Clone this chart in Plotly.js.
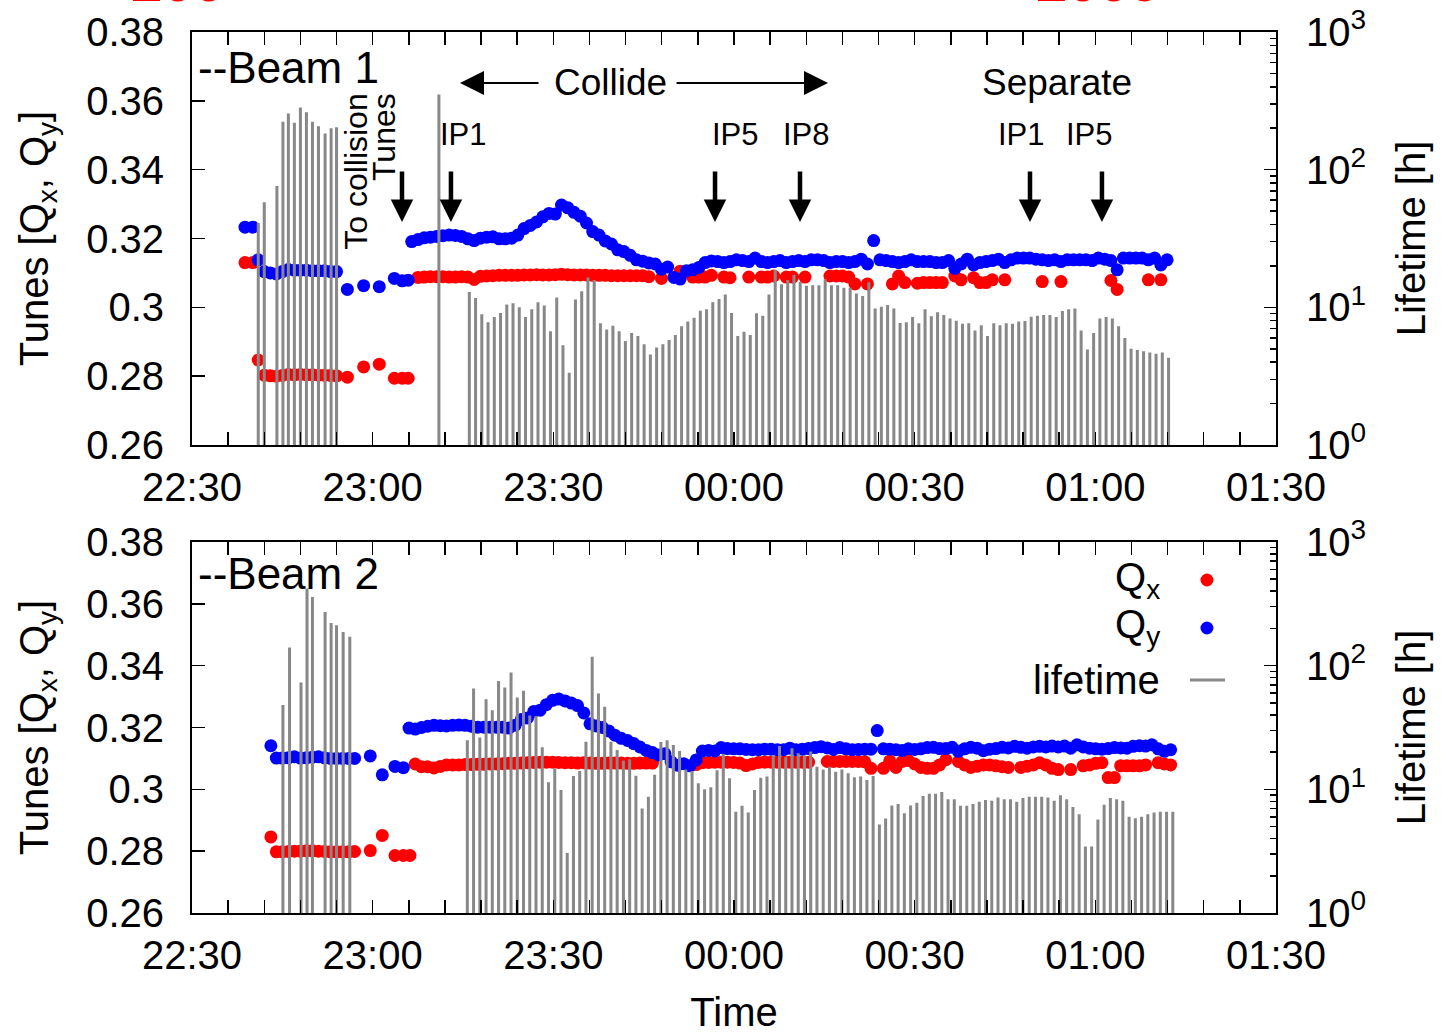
<!DOCTYPE html>
<html>
<head>
<meta charset="utf-8">
<script src="https://cdn.plot.ly/plotly-3.0.1.min.js"></script>
<style>html,body{margin:0;padding:0;background:#fff;}#chart{width:1441px;height:1034px;}</style>
</head>
<body>
<div id="chart"></div>
<script>
// ---------- DATA (times in minutes after 22:30) ----------
// Beam 1 : early tune measurements
const tEarly1 = [8.8, 10.1, 11.0, 12, 13, 14, 15, 16, 17, 18, 19, 20, 21, 22, 23, 24, 25.8, 28.5, 31.1, 33.6, 34.9, 35.9];
const qyEarly1 = [0.3233, 0.3233, 0.3138, 0.3104, 0.3100, 0.3097, 0.3104, 0.3110, 0.3108, 0.3108, 0.3108, 0.3106, 0.3106, 0.3106, 0.3104, 0.3104, 0.3052, 0.3063, 0.3060, 0.3084, 0.3077, 0.3079];
const qxEarly1 = [0.3130, 0.3130, 0.2847, 0.2803, 0.2801, 0.2800, 0.2802, 0.2805, 0.2804, 0.2805, 0.2804, 0.2804, 0.2803, 0.2803, 0.2802, 0.2801, 0.2797, 0.2827, 0.2835, 0.2794, 0.2794, 0.2794];
// Beam 1 : main tune series (one sample every stepSec, starting at tMainStart1)
const tMainStart1 = 36.48;
const qyMain1 = [0.3191,0.3197,0.3202,0.3204,0.3206,0.3208,0.3210,0.3209,0.3206,0.3199,
0.3194,0.3201,0.3204,0.3205,0.3199,0.3199,0.3201,0.3210,0.3229,0.3238,
0.3248,0.3263,0.3273,0.3271,0.3297,0.3289,0.3276,0.3265,0.3245,0.3220,
0.3210,0.3193,0.3184,0.3167,0.3162,0.3151,0.3138,0.3134,0.3129,0.3126,
0.3111,0.3117,0.3087,0.3082,0.3106,0.3109,0.3116,0.3130,0.3135,0.3133,
0.3130,0.3133,0.3138,0.3136,0.3133,0.3143,0.3133,0.3130,0.3133,0.3136,
0.3130,0.3133,0.3136,0.3133,0.3138,0.3138,0.3136,0.3130,0.3133,0.3133,
0.3130,0.3133,0.3140,0.3126,0.3194,0.3138,0.3136,0.3133,0.3130,0.3133,
0.3138,0.3133,0.3133,0.3133,0.3130,0.3130,0.3136,0.3113,0.3126,0.3140,
0.3123,0.3130,0.3133,0.3136,0.3140,0.3130,0.3138,0.3143,0.3143,0.3143,
0.3140,0.3138,0.3136,0.3138,0.3133,0.3138,0.3138,0.3138,0.3138,0.3136,
0.3143,0.3140,0.3136,0.3109,0.3143,0.3143,0.3143,0.3143,0.3138,0.3143,
0.3123,0.3138];
const qxMain1 = [null,0.3087,0.3088,0.3089,0.3089,0.3089,0.3088,0.3088,0.3089,0.3088,
0.3081,0.3090,0.3091,0.3092,0.3093,0.3093,0.3093,0.3093,0.3094,0.3094,
0.3095,0.3094,0.3094,0.3095,0.3096,0.3095,0.3094,0.3094,0.3094,0.3093,
0.3093,0.3093,0.3092,0.3092,0.3092,0.3092,0.3092,0.3092,0.3089,null,
0.3084,null,null,0.3105,null,0.3088,0.3088,0.3088,0.3093,null,
0.3088,0.3086,null,null,0.3088,null,0.3088,0.3088,0.3091,null,
0.3088,0.3088,null,0.3088,null,null,null,0.3091,0.3091,0.3091,
0.3088,0.3068,null,0.3068,null,null,null,0.3068,0.3091,0.3072,
null,0.3070,0.3072,0.3072,0.3072,0.3072,null,0.3091,0.3080,null,
0.3086,0.3072,0.3072,0.3080,null,0.3080,null,null,null,null,
null,0.3075,null,null,0.3075,null,null,null,null,null,
null,null,0.3078,0.3052,null,null,null,null,0.3080,null,
0.3080,null];
// Beam 1 : lifetime [h]
const tLifeEarly1 = [11.0, 12.0, 14.1, 15.1, 16.0, 17.0, 18.0, 19.0, 20.0, 21.0, 22.1, 23.1, 24.0, 41.0];
const lifeEarly1 = [41, 58, 76, 223, 256, 219, 283, 261, 223, 207, 183, 200, 203, 352];
const tLifeStart1 = 46.05;
const lifeMain1 = [12.9, 11.7, 8.9, 7.8, 8.5, 9.1, 10.5, 10.7, 10.0, 8.5,
9.7, 10.9, 10.3, 6.7, 11.8, 5.3, 3.35, 11.4, 13.1, 16.5,
15.8, 7.65, 6.9, 7.35, 6.7, 5.7, 6.5, 6.2, 5.4, 4.55,
5.1, 5.4, 5.8, 6.3, 7.3, 7.9, 8.4, 9.45, 9.7, 10.9,
11.5, 12.4, 9.1, 6.2, 6.65, 6.3, 9.05, 8.7, 12.4, 18.7,
14.7, 15.8, 17.2, 15.3, 14.35, 14.5, 14.5, 16.0, 14.5, 14.5,
13.9, 13.9, 12.6, 12.1, 15.2, 9.8, 10.1, 10.4, 9.8, 7.7,
7.8, 8.5, 7.65, 9.7, 8.6, 9.2, 8.8, 8.3, 8.0, 7.6,
7.65, 6.8, 7.4, 6.2, 7.65, 7.4, 7.65, 7.6, 7.9, 7.95,
8.55, 8.7, 8.8, 8.8, 8.5, 9.4, 9.7, 9.8, 6.8, 4.95,
6.5, 8.3, 8.5, 8.3, 7.3, 6.0, 5.0, 4.9, 4.8, 4.7,
4.6, 4.7, 4.3];

// Beam 2 : early tune measurements
const tEarly2 = [13.1, 14, 15, 16, 17, 18, 19, 20, 21, 22, 23, 24, 25, 26, 27, 29.6, 31.6, 33.7, 35.1, 36.2];
const qyEarly2 = [0.3141, 0.3101, 0.3101, 0.3102, 0.3105, 0.3101, 0.3102, 0.3104, 0.3105, 0.3102, 0.3100, 0.3100, 0.3100, 0.3100, 0.3100, 0.3108, 0.3047, 0.3074, 0.3070, null];
const qxEarly2 = [0.2846, 0.2798, 0.2798, 0.2799, 0.2800, 0.2800, 0.2801, 0.2801, 0.2800, 0.2799, 0.2798, 0.2798, 0.2798, 0.2798, 0.2799, 0.2802, 0.2851, 0.2786, 0.2786, 0.2786];
// Beam 2 : main tune series
const tMainStart2 = 36.03;
const qyMain2 = [0.3198,0.3195,0.3200,0.3204,0.3207,0.3206,0.3205,0.3207,0.3208,0.3207,
0.3204,0.3201,0.3201,0.3201,0.3201,0.3201,0.3198,0.3207,0.3226,0.3231,
0.3252,0.3256,0.3274,0.3288,0.3292,0.3286,0.3279,0.3271,0.3247,0.3212,
0.3205,0.3200,0.3189,0.3175,0.3165,0.3158,0.3148,0.3137,0.3126,0.3119,
0.3111,0.3115,0.3089,0.3078,0.3083,0.3076,0.3095,0.3124,0.3126,0.3124,
0.3135,0.3132,0.3131,0.3131,0.3129,0.3128,0.3128,0.3130,0.3130,0.3128,
0.3128,0.3133,0.3128,0.3130,0.3132,0.3135,0.3138,0.3134,0.3129,0.3135,
0.3131,0.3128,0.3129,0.3130,0.3130,0.3190,0.3131,0.3130,0.3128,0.3126,
0.3131,0.3129,0.3131,0.3135,0.3136,0.3132,0.3132,0.3136,0.3123,0.3131,
0.3136,0.3133,0.3125,0.3130,0.3132,0.3136,0.3134,0.3139,0.3136,0.3133,
0.3137,0.3139,0.3137,0.3140,0.3137,0.3140,0.3133,0.3144,0.3137,0.3133,
0.3131,0.3130,0.3132,0.3135,0.3134,0.3133,0.3139,0.3141,0.3140,0.3144,
0.3131,0.3123,0.3128];
const qxMain2 = [null,0.3082,0.3073,0.3073,0.3069,0.3074,0.3079,0.3079,0.3079,0.3080,
0.3080,0.3081,0.3081,0.3082,0.3082,0.3083,0.3084,0.3084,0.3085,0.3086,
0.3087,0.3088,0.3088,0.3088,0.3087,0.3086,0.3086,0.3085,0.3086,0.3085,
0.3084,0.3084,0.3085,0.3085,0.3085,0.3084,0.3084,0.3085,0.3085,0.3085,
null,null,null,null,null,null,0.3080,0.3086,0.3087,0.3088,
0.3088,0.3088,0.3087,0.3085,0.3077,0.3082,0.3087,0.3088,0.3088,0.3088,
0.3088,0.3088,0.3088,0.3088,0.3088,null,null,0.3090,0.3090,0.3090,
0.3090,0.3090,0.3090,0.3089,0.3068,null,0.3068,0.3092,0.3071,0.3090,
0.3093,0.3082,0.3071,0.3068,0.3068,0.3079,0.3096,null,0.3090,0.3079,
0.3071,0.3075,0.3079,0.3079,0.3076,0.3073,0.3071,null,0.3071,0.3075,
0.3079,0.3086,0.3079,0.3068,0.3064,null,0.3064,null,0.3076,0.3079,
0.3084,0.3086,0.3038,0.3038,0.3076,0.3076,0.3076,0.3076,0.3079,null,
0.3086,0.3082,0.3079];
// Beam 2 : lifetime [h]
const tLifeEarly2 = [15.1, 16.2, 18.1, 19.1, 20.0, 22.1, 23.1, 24.0, 25.1, 26.2];
const lifeEarly2 = [48, 140, 73, 420, 359, 272, 221, 212, 187, 171];
const tLifeStart2 = 45.72;
const lifeMain2 = [25.0, 65.5, 26.3, 53.4, 43.7, 75.0, 66.7, 88.1, 55.4, 62.6,
39.5, 39.1, 21.9, 11.4, 14.8, 9.9, 3.05, 12.8, 14.1, 24.3,
117.8, 59.7, 46.5, 24.3, 20.8, 17.1, 17.5, 12.9, 7.0, 8.7,
13.1, 24.1, 25.0, 22.8, 20.4, 14.5, 14.1, 11.2, 10.0, 10.4,
14.3, 19.3, 12.3, 6.6, 7.35, 6.5, 9.9, 12.4, 12.7, 18.9,
22.4, 18.2, 21.5, 19.6, 18.9, 20.2, 15.2, 14.5, 15.2, 13.9,
14.5, 13.5, 12.5, 12.7, 11.9, 12.8, 5.2, 5.8, 7.4, 7.6,
6.4, 7.4, 7.8, 8.85, 9.2, 9.2, 9.5, 8.3, 8.3, 7.35,
7.35, 7.6, 7.95, 8.2, 8.1, 8.6, 8.3, 8.3, 7.95, 8.5,
8.7, 8.7, 8.7, 8.6, 8.1, 8.96, 8.3, 7.2, 6.3, 3.45,
3.45, 5.7, 7.5, 8.5, 8.3, 8.1, 6.0, 5.85, 6.0, 6.3,
6.5, 6.6, 6.6, 6.6];

// Annotation events (minutes after 22:30)
const arrowTimes = [34.87, 43.0, 86.85, 100.96, 139.15, 151.1];
const ipLabels = ['IP1', 'IP5', 'IP8', 'IP1', 'IP5'];
const ipLabelTimes = [45.0, 90.2, 102.1, 137.8, 149.1];
const xTickLabels = ['22:30', '23:00', '23:30', '00:00', '00:30', '01:00', '01:30'];

// ---------- helpers ----------
const T0 = Date.UTC(2009, 0, 1, 22, 30, 0);
const toMs = m => T0 + m * 60000;
const stepMs = 62200;
const RED = '#ff0000', BLUE = '#0000ff', GRAY = '#888888';
const MS = 13;

function tuneTrace(x, y, color, xa, ya) {
  return { type: 'scatter', mode: 'markers', x: x, y: y, xaxis: xa, yaxis: ya,
    marker: { color: color, size: MS, line: { width: 0 } }, hoverinfo: 'skip' };
}
function tuneTraceReg(start, y, color, xa, ya) {
  return { type: 'scatter', mode: 'markers', x0: toMs(start), dx: stepMs, y: y, xaxis: xa, yaxis: ya,
    marker: { color: color, size: MS, line: { width: 0 } }, hoverinfo: 'skip' };
}
function barTrace(x, y, xa, ya) {
  return { type: 'bar', x: x, y: y, xaxis: xa, yaxis: ya, width: 30000,
    marker: { color: GRAY, line: { width: 0 } }, hoverinfo: 'skip' };
}
function barTraceReg(start, y, xa, ya) {
  return { type: 'bar', x0: toMs(start), dx: stepMs, y: y, xaxis: xa, yaxis: ya, width: 30000,
    marker: { color: GRAY, line: { width: 0 } }, hoverinfo: 'skip' };
}

const data = [
  tuneTrace(tEarly1.map(toMs), qxEarly1, RED, 'x', 'y'),
  tuneTraceReg(tMainStart1, qxMain1, RED, 'x', 'y'),
  tuneTrace(tEarly1.map(toMs), qyEarly1, BLUE, 'x', 'y'),
  tuneTraceReg(tMainStart1, qyMain1, BLUE, 'x', 'y'),
  barTrace(tLifeEarly1.map(toMs), lifeEarly1, 'x', 'y2'),
  barTraceReg(tLifeStart1, lifeMain1, 'x', 'y2'),

  tuneTrace(tEarly2.map(toMs), qxEarly2, RED, 'x2', 'y3'),
  tuneTraceReg(tMainStart2, qxMain2, RED, 'x2', 'y3'),
  tuneTrace(tEarly2.map(toMs), qyEarly2, BLUE, 'x2', 'y3'),
  tuneTraceReg(tMainStart2, qyMain2, BLUE, 'x2', 'y3'),
  barTrace(tLifeEarly2.map(toMs), lifeEarly2, 'x2', 'y4'),
  barTraceReg(tLifeStart2, lifeMain2, 'x2', 'y4')
];

const FONT = 'Liberation Sans, Arial, Helvetica, sans-serif';
const xTickVals = xTickLabels.map((_, i) => toMs(i * 30));
const xCommon = {
  type: 'date', range: [T0, toMs(180)],
  tickmode: 'array', tickvals: xTickVals, ticktext: xTickLabels,
  ticks: 'inside', ticklen: 13, tickwidth: 1.5, tickcolor: '#000',
  showline: true, linewidth: 2, linecolor: '#000', mirror: 'allticks',
  showgrid: false, zeroline: false, ticklabelstandoff: 6,
  tickfont: { size: 40, family: FONT, color: '#000' },
  minor: { ticks: 'inside', ticklen: 6, tickwidth: 1.5, tickcolor: '#000', tick0: T0, dtick: 360000, showgrid: false }
};
const yLeft = {
  range: [0.26, 0.38], tick0: 0.26, dtick: 0.02,
  ticks: 'inside', ticklen: 13, tickwidth: 1.5, tickcolor: '#000',
  showline: true, linewidth: 2, linecolor: '#000', mirror: true,
  showgrid: false, zeroline: false, ticklabelstandoff: 18,
  tickfont: { size: 40, family: FONT, color: '#000' },
  title: { text: 'Tunes [Q<sub>x</sub>, Q<sub>y</sub>]', font: { size: 40, family: FONT, color: '#000' }, standoff: 25 }
};
const minorLog = [];
[1, 10, 100].forEach(d => { for (let k = 2; k <= 9; k++) minorLog.push(k * d); });
const yRight = {
  type: 'log', range: [0, 3], side: 'right',
  tickmode: 'array', tickvals: [1, 10, 100, 1000],
  ticktext: ['10<sup>0</sup>', '10<sup>1</sup>', '10<sup>2</sup>', '10<sup>3</sup>'],
  ticks: 'inside', ticklen: 12, tickwidth: 1.5, tickcolor: '#000',
  showline: true, linewidth: 2, linecolor: '#000',
  showgrid: false, zeroline: false, ticklabelstandoff: 20,
  tickfont: { size: 40, family: FONT, color: '#000' },
  minor: { ticks: 'inside', ticklen: 6, tickwidth: 1.5, tickcolor: '#000', tickmode: 'array', tickvals: minorLog, showgrid: false },
  title: { text: 'Lifetime [h]', font: { size: 40, family: FONT, color: '#000' }, standoff: 32 }
};

const annotations = [];
// panel labels
annotations.push({ xref: 'x domain', yref: 'y domain', x: 0.004, y: 0.913, xanchor: 'left', yanchor: 'middle',
  text: '--Beam 1', showarrow: false, font: { size: 44, family: FONT, color: '#000' } });
annotations.push({ xref: 'x2 domain', yref: 'y3 domain', x: 0.004, y: 0.916, xanchor: 'left', yanchor: 'middle',
  text: '--Beam 2', showarrow: false, font: { size: 44, family: FONT, color: '#000' } });
// rotated "To collision Tunes"
annotations.push({ xref: 'x', yref: 'y', x: toMs(27.3), y: 0.3395, textangle: -90, showarrow: false,
  text: 'To collision', font: { size: 32, family: FONT, color: '#000' } });
annotations.push({ xref: 'x', yref: 'y', x: toMs(32.0), y: 0.3494, textangle: -90, showarrow: false,
  text: 'Tunes', font: { size: 32, family: FONT, color: '#000' } });
// down arrows
arrowTimes.forEach(t => annotations.push({ xref: 'x', yref: 'y', x: toMs(t), y: 0.3248, ax: 0, ay: -52,
  text: '', showarrow: true, arrowhead: 2, arrowsize: 1, arrowwidth: 4.5, arrowcolor: '#000', standoff: 0 }));
// IP labels
ipLabels.forEach((s, i) => annotations.push({ xref: 'x', yref: 'y', x: toMs(ipLabelTimes[i]), y: 0.3502,
  text: s, showarrow: false, font: { size: 31, family: FONT, color: '#000' } }));
// Collide / Separate
annotations.push({ xref: 'x', yref: 'y', x: toMs(69.41), y: 0.3652, text: 'Collide', showarrow: false,
  font: { size: 37, family: FONT, color: '#000' } });
annotations.push({ xref: 'x', yref: 'y', x: toMs(143.64), y: 0.3652, text: 'Separate', showarrow: false,
  font: { size: 37, family: FONT, color: '#000' } });
annotations.push({ xref: 'x', yref: 'y', x: toMs(44.5), y: 0.3652, ax: 80, ay: 0, text: '', showarrow: true,
  arrowhead: 2, arrowsize: 2.4, arrowwidth: 2, arrowcolor: '#000', standoff: 0 });
annotations.push({ xref: 'x', yref: 'y', x: toMs(105.61), y: 0.3652, ax: -153, ay: 0, text: '', showarrow: true,
  arrowhead: 2, arrowsize: 2.4, arrowwidth: 2, arrowcolor: '#000', standoff: 0 });
// legend (text left of symbol, as in the reference)
annotations.push({ xref: 'x2 domain', yref: 'y3 domain', x: 0.8948, y: 0.8976, xanchor: 'right', yanchor: 'middle',
  text: 'Q<sub>x</sub>', showarrow: false, font: { size: 40, family: FONT, color: '#000' } });
annotations.push({ xref: 'x2 domain', yref: 'y3 domain', x: 0.8948, y: 0.771, xanchor: 'right', yanchor: 'middle',
  text: 'Q<sub>y</sub>', showarrow: false, font: { size: 40, family: FONT, color: '#000' } });
annotations.push({ xref: 'x2 domain', yref: 'y3 domain', x: 0.8948, y: 0.628, xanchor: 'right', yanchor: 'middle',
  text: 'lifetime', showarrow: false, font: { size: 40, family: FONT, color: '#000' } });
// red text cut at the top of the picture (as in the reference)
annotations.push({ xref: 'paper', yref: 'paper', x: -0.013, y: 1.0195, xanchor: 'center', yanchor: 'bottom',
  text: '<b>200</b>', showarrow: false, font: { size: 56, family: FONT, color: RED } });
annotations.push({ xref: 'paper', yref: 'paper', x: 0.836, y: 1.0195, xanchor: 'center', yanchor: 'bottom',
  text: '<b>2009</b>', showarrow: false, font: { size: 56, family: FONT, color: RED } });

const shapes = [
  { type: 'circle', xref: 'paper', yref: 'paper', xsizemode: 'pixel', ysizemode: 'pixel',
    xanchor: 0.9363, yanchor: 0.3780, x0: -6.5, x1: 6.5, y0: -6.5, y1: 6.5, fillcolor: RED, line: { width: 0 } },
  { type: 'circle', xref: 'paper', yref: 'paper', xsizemode: 'pixel', ysizemode: 'pixel',
    xanchor: 0.9363, yanchor: 0.3235, x0: -6.5, x1: 6.5, y0: -6.5, y1: 6.5, fillcolor: BLUE, line: { width: 0 } },
  { type: 'line', xref: 'paper', yref: 'paper', x0: 0.9207, x1: 0.9530, y0: 0.2645, y1: 0.2645,
    line: { color: GRAY, width: 3 } }
];

const layout = {
  width: 1441, height: 1034,
  margin: { l: 192, r: 165, t: 32, b: 121, pad: 0, autoexpand: false },
  paper_bgcolor: '#fff', plot_bgcolor: '#fff',
  font: { family: FONT, size: 40, color: '#000' },
  showlegend: false, barmode: 'overlay', hovermode: false,
  xaxis: Object.assign({}, xCommon, { anchor: 'y', domain: [0, 1] }),
  xaxis2: Object.assign({}, xCommon, { anchor: 'y3', domain: [0, 1],
    title: { text: 'Time', font: { size: 40, family: FONT, color: '#000' }, standoff: 26 } }),
  yaxis: Object.assign({}, yLeft, { anchor: 'x', domain: [0.5312, 1] }),
  yaxis2: Object.assign({}, yRight, { anchor: 'x', overlaying: 'y' }),
  yaxis3: Object.assign({}, yLeft, { anchor: 'x2', domain: [0, 0.4211] }),
  yaxis4: Object.assign({}, yRight, { anchor: 'x2', overlaying: 'y3' }),
  annotations: annotations,
  shapes: shapes
};

Plotly.newPlot('chart', data, layout, { staticPlot: true, displayModeBar: false });
</script>
</body>
</html>
